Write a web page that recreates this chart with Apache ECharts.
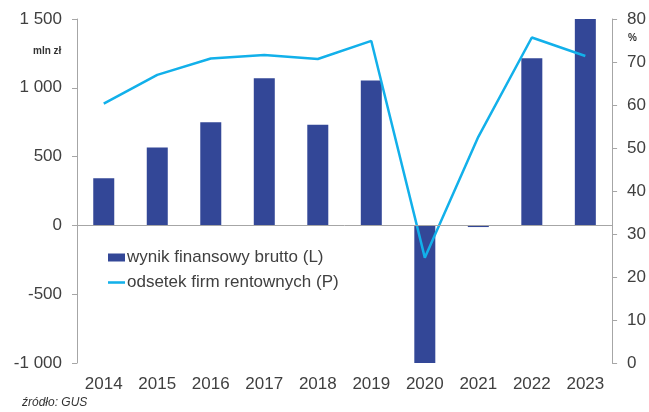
<!DOCTYPE html>
<html>
<head>
<meta charset="utf-8">
<script src="https://cdn.jsdelivr.net/npm/echarts@6/dist/echarts.min.js"></script>
<style>
  html, body { margin: 0; padding: 0; background: #fff; }
  #chart { width: 649px; height: 412px; }
</style>
</head>
<body>
<div id="chart"></div>
<script>
// dane
var years = ['2014', '2015', '2016', '2017', '2018', '2019', '2020', '2021', '2022', '2023'];
var wynik = [342, 567, 750, 1070, 731, 1053, -1000, -12, 1214, 1500];      // mln zł (L)
var odsetek = [60.3, 67.0, 70.8, 71.6, 70.7, 74.9, 24.5, 52.6, 75.7, 71.4]; // % (P)
var nameBar = 'wynik finansowy brutto (L)';
var nameLine = 'odsetek firm rentownych (P)';

var FONT = '"Liberation Sans", Arial, sans-serif';
var gray = '#404040';
var axisGray = '#a6a6a6';

function fmt(v) {
  var s = String(Math.abs(v)).replace(/\B(?=(\d{3})+(?!\d))/g, ' ');
  return (v < 0 ? '-' : '') + s;
}

var chart = echarts.init(document.getElementById('chart'));
chart.setOption({
  animation: false,
  backgroundColor: '#fff',
  textStyle: { fontFamily: FONT },
  grid: { left: 77, right: 36, top: 19, bottom: 49 },
  legend: {
    orient: 'vertical',
    left: 103,
    top: 244,
    itemWidth: 17,
    itemHeight: 8,
    itemGap: 8,
    itemStyle: { borderWidth: 0 },
    textStyle: { fontSize: 17, color: gray, fontFamily: FONT, lineHeight: 17, padding: [0, 0, 0, -3] },
    data: [
      { name: nameBar, icon: 'rect' },
      { name: nameLine, icon: 'path://M0,0H20V3H0Z' }
    ]
  },
  graphic: [
    { type: 'text', left: 33, top: 46, style: { text: 'mln zł', font: 'bold 10px ' + FONT, fill: '#333' } },
    { type: 'text', left: 628, top: 33, style: { text: '%', font: 'bold 10px ' + FONT, fill: '#333' } },
    { type: 'text', left: 22, top: 397, style: { text: 'źródło: GUS', font: 'italic 12px ' + FONT, fill: '#333' } }
  ],
  xAxis: {
    type: 'category',
    data: years,
    axisLine: { show: false, onZero: false },
    axisTick: { show: false },
    axisLabel: { fontSize: 17, color: gray, margin: 13 }
  },
  yAxis: [
    {
      type: 'value',
      min: -1000, max: 1500, interval: 500,
      axisLine: { show: true, lineStyle: { color: axisGray } },
      axisTick: { show: true, length: 5, lineStyle: { color: axisGray } },
      splitLine: { show: false },
      axisLabel: { fontSize: 17, color: gray, margin: 15, formatter: fmt }
    },
    {
      type: 'value',
      min: 0, max: 80, interval: 10,
      axisLine: { show: true, lineStyle: { color: axisGray } },
      axisTick: { show: true, length: 5, lineStyle: { color: axisGray } },
      splitLine: { show: false },
      axisLabel: { fontSize: 17, color: gray, margin: 15 }
    }
  ],
  series: [
    {
      name: nameBar,
      type: 'bar',
      yAxisIndex: 0,
      data: wynik,
      barWidth: 21,
      itemStyle: { color: '#334797' },
      markLine: {
        silent: true,
        symbol: 'none',
        label: { show: false },
        lineStyle: { color: axisGray, type: 'solid', width: 1 },
        data: [{ yAxis: 0 }]
      },
      z: 2
    },
    {
      name: nameLine,
      type: 'line',
      yAxisIndex: 1,
      data: odsetek,
      symbol: 'none',
      lineStyle: { color: '#12b0ea', width: 2.5 },
      itemStyle: { color: '#12b0ea' },
      z: 3
    }
  ]
});
</script>
</body>
</html>
